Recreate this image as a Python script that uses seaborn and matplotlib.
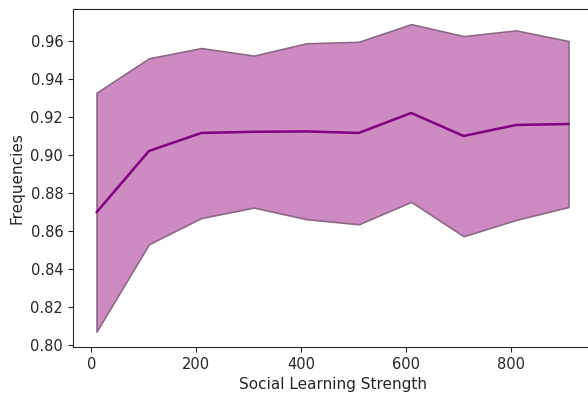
import matplotlib
matplotlib.use("Agg")
import matplotlib.pyplot as plt
import seaborn as sns
import pandas as pd

strength = [10, 110, 210, 310, 410, 510, 610, 710, 810, 910]
mean_freq = [0.8698, 0.9021, 0.9116, 0.9122, 0.9124, 0.9116, 0.9221, 0.9100, 0.9158, 0.9163]
upper_freq = [0.9328, 0.9509, 0.9563, 0.9523, 0.9588, 0.9596, 0.9689, 0.9626, 0.9656, 0.9600]
lower_freq = [0.8070, 0.8530, 0.8668, 0.8723, 0.8662, 0.8635, 0.8753, 0.8572, 0.8658, 0.8726]

df = pd.DataFrame({"x": strength, "mean": mean_freq, "lo": lower_freq, "hi": upper_freq})

sns.set_style("ticks")
plt.rcParams["font.family"] = ["DejaVu Sans"]

fig = plt.figure(figsize=(5.88, 3.97), dpi=100)
ax = fig.add_axes([0.124, 0.126, 0.883, 0.852])

ax.fill_between(df["x"], df["lo"], df["hi"], facecolor="#cd8bc1",
                edgecolor="#8c6a86", linewidth=1.2)
sns.lineplot(data=df, x="x", y="mean", color="purple", linewidth=1.8, ax=ax)

ax.set_xlabel("Social Learning Strength", fontsize=11)
ax.set_ylabel("Frequencies", fontsize=11)
ax.tick_params(labelsize=10.5)
ax.set_yticks([0.80, 0.82, 0.84, 0.86, 0.88, 0.90, 0.92, 0.94, 0.96])
ax.set_xticks([0, 200, 400, 600, 800])
ax.set_xlim(-35, 955)
ax.set_ylim(0.7989, 0.977)

fig.savefig("out.png", dpi=100)
